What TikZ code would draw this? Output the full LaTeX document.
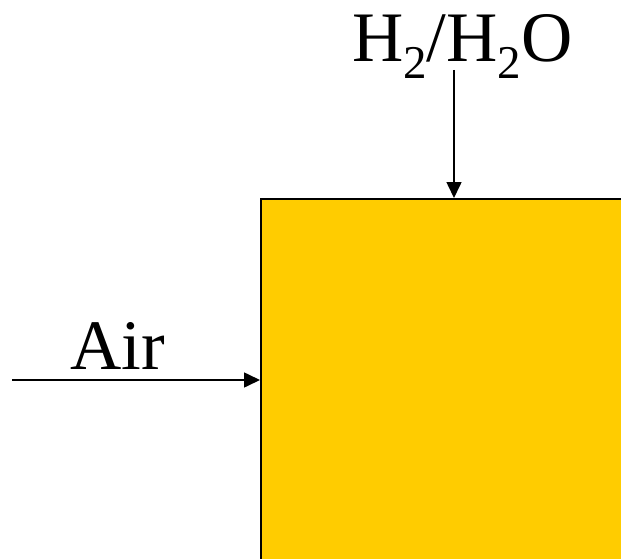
\documentclass[tikz,border=0pt]{standalone}
\usepackage{fontspec}
\setmainfont{Liberation Serif}
\usetikzlibrary{arrows.meta}
\definecolor{boxyellow}{HTML}{FFCC00}
\newcommand{\subtwo}{\raisebox{-17pt}{\fontsize{47}{52}\selectfont 2}}
\tikzset{
  arr/.style={line width=1.6pt,-{Triangle[length=16pt,width=15pt]}},
  lbl/.style={inner sep=0pt,font=\fontsize{71}{80}\selectfont},
  vessel/.style={draw=black,line width=2pt,fill=boxyellow,minimum width=500pt,minimum height=500pt,inner sep=0pt}
}
\begin{document}
\begin{tikzpicture}[x=1pt,y=-1pt]
\useasboundingbox (0,0) rectangle (621,559);
\clip (0,0) rectangle (621,559);
\node[vessel,anchor=north west] (box) at (260,198) {};
\coordinate (airin) at (12,380);
\coordinate (h2in) at (454,70);
\draw[arr] (airin) -- (airin -| box.west);
\draw[arr] (h2in) -- (h2in |- box.north);
\node[lbl,anchor=base west] (air) at (70,369) {Air};
\node[lbl,anchor=base west] (h2) at (352,62) {H\subtwo/H\subtwo O};
\end{tikzpicture}
\end{document}
